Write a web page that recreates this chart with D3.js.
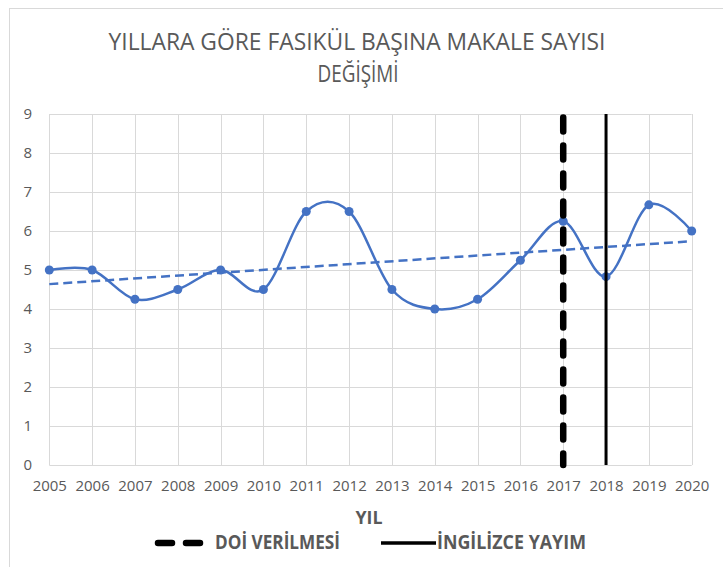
<!DOCTYPE html>
<html>
<head>
<meta charset="utf-8">
<script src="https://cdn.jsdelivr.net/npm/d3@7"></script>
<style>
  body { margin: 0; background: #fff; }
  text { font-family: "Open Sans", "Noto Sans", sans-serif; fill: #595959; }
</style>
</head>
<body>
<script>
// data
var years = [2005, 2006, 2007, 2008, 2009, 2010, 2011, 2012, 2013, 2014, 2015, 2016, 2017, 2018, 2019, 2020];
var perIssue = [5, 5, 4.25, 4.5, 5, 4.5, 6.5, 6.5, 4.5, 4, 4.25, 5.25, 6.25, 4.83, 6.67, 6];
var yTicks = [0, 1, 2, 3, 4, 5, 6, 7, 8, 9];
var doiYear = 2017;
var englishYear = 2018;
var titleLines = ["YILLARA GÖRE FASIKÜL BAŞINA MAKALE SAYISI", "DEĞİŞİMİ"];
var legendNames = ["DOİ VERİLMESİ", "İNGİLİZCE YAYIM"];

var w = 723;
var h = 567;
var blue = "#4472C4";

var svg = d3.select("body")
  .append("svg")
  .attr("width", w)
  .attr("height", h);

// chart border
svg.append("rect")
  .attr("x", 9.5)
  .attr("y", 8.5)
  .attr("width", w - 8)
  .attr("height", h - 4)
  .attr("fill", "none")
  .attr("stroke", "#d9d9d9");

var xScale = d3.scaleLinear()
  .domain([2005, 2020])
  .range([49.3, 691.7]);

var yScale = d3.scaleLinear()
  .domain([0, 9])
  .range([465, 114]);

// title
svg.append("text")
  .attr("x", 357)
  .attr("y", 50)
  .attr("text-anchor", "middle")
  .attr("font-size", 24)
  .attr("textLength", 497)
  .attr("lengthAdjust", "spacingAndGlyphs")
  .text(titleLines[0]);

svg.append("text")
  .attr("x", 358)
  .attr("y", 82)
  .attr("text-anchor", "middle")
  .attr("font-size", 24)
  .attr("textLength", 81)
  .attr("lengthAdjust", "spacingAndGlyphs")
  .text(titleLines[1]);

// gridlines
svg.append("g")
  .selectAll("line")
  .data(yTicks)
  .enter().append("line")
  .attr("x1", xScale(2005))
  .attr("x2", xScale(2020))
  .attr("y1", function(d) { return Math.round(yScale(d)) + 0.5; })
  .attr("y2", function(d) { return Math.round(yScale(d)) + 0.5; })
  .attr("stroke", "#d9d9d9");

svg.append("g")
  .selectAll("line")
  .data(years)
  .enter().append("line")
  .attr("x1", function(d) { return Math.round(xScale(d)) + 0.5; })
  .attr("x2", function(d) { return Math.round(xScale(d)) + 0.5; })
  .attr("y1", yScale(9))
  .attr("y2", yScale(0))
  .attr("stroke", "#d9d9d9");

// y axis labels
var yAxis = svg.append("g")
  .attr("transform", "translate(32,0)")
  .call(d3.axisLeft(yScale).tickValues(yTicks).tickSize(0).tickPadding(0));
yAxis.select(".domain").remove();
yAxis.selectAll("text")
  .attr("font-size", 15)
  .attr("font-family", "Open Sans")
  .style("fill", "#595959");

// x axis labels
var xAxis = svg.append("g")
  .attr("transform", "translate(0,480)")
  .call(d3.axisBottom(xScale).tickValues(years).tickFormat(d3.format("d")).tickSize(0).tickPadding(0));
xAxis.select(".domain").remove();
xAxis.selectAll("text")
  .attr("font-size", 15)
  .attr("font-family", "Open Sans")
  .attr("dy", "0.71em")
  .style("fill", "#595959");

svg.append("text")
  .attr("x", 369)
  .attr("y", 524)
  .attr("text-anchor", "middle")
  .attr("font-size", 17)
  .attr("font-weight", "bold")
  .attr("textLength", 27)
  .attr("lengthAdjust", "spacingAndGlyphs")
  .text("YIL");

// linear trendline from least squares
var n = years.length;
var mx = d3.mean(years);
var my = d3.mean(perIssue);
var sxy = 0, sxx = 0;
for (var i = 0; i < n; i++) {
  sxy += (years[i] - mx) * (perIssue[i] - my);
  sxx += (years[i] - mx) * (years[i] - mx);
}
var slope = sxy / sxx;
var trend = [years[0], years[n - 1]].map(function(x) { return [x, my + slope * (x - mx)]; });

svg.append("path")
  .datum(trend)
  .attr("d", d3.line()
    .x(function(d) { return xScale(d[0]); })
    .y(function(d) { return yScale(d[1]); }))
  .attr("fill", "none")
  .attr("stroke", blue)
  .attr("stroke-width", 2.5)
  .attr("stroke-dasharray", "9,5");

// smoothed series
var series = years.map(function(y, i) { return [y, perIssue[i]]; });
svg.append("path")
  .datum(series)
  .attr("d", d3.line()
    .x(function(d) { return xScale(d[0]); })
    .y(function(d) { return yScale(d[1]); })
    .curve(d3.curveCardinal.tension(0)))
  .attr("fill", "none")
  .attr("stroke", blue)
  .attr("stroke-width", 2.5);

svg.append("g")
  .selectAll("circle")
  .data(series)
  .enter().append("circle")
  .attr("cx", function(d) { return xScale(d[0]); })
  .attr("cy", function(d) { return yScale(d[1]); })
  .attr("r", 4.5)
  .attr("fill", blue);

// marker lines
svg.append("line")
  .attr("x1", xScale(doiYear))
  .attr("x2", xScale(doiYear))
  .attr("y1", yScale(9) + 3.5)
  .attr("y2", yScale(0))
  .attr("stroke", "#000")
  .attr("stroke-width", 6.5)
  .attr("stroke-linecap", "round")
  .attr("stroke-dasharray", "14,14");

svg.append("line")
  .attr("x1", xScale(englishYear))
  .attr("x2", xScale(englishYear))
  .attr("y1", yScale(9))
  .attr("y2", yScale(0))
  .attr("stroke", "#000")
  .attr("stroke-width", 3);

// legend
svg.append("line")
  .attr("x1", 158)
  .attr("x2", 200)
  .attr("y1", 543)
  .attr("y2", 543)
  .attr("stroke", "#000")
  .attr("stroke-width", 6.5)
  .attr("stroke-linecap", "round")
  .attr("stroke-dasharray", "14,14");

svg.append("text")
  .attr("x", 215)
  .attr("y", 549)
  .attr("font-size", 19)
  .attr("font-weight", "bold")
  .attr("textLength", 125)
  .attr("lengthAdjust", "spacingAndGlyphs")
  .text(legendNames[0]);

svg.append("line")
  .attr("x1", 381)
  .attr("x2", 436)
  .attr("y1", 543)
  .attr("y2", 543)
  .attr("stroke", "#000")
  .attr("stroke-width", 3.5);

svg.append("text")
  .attr("x", 437)
  .attr("y", 549)
  .attr("font-size", 19)
  .attr("font-weight", "bold")
  .attr("textLength", 149)
  .attr("lengthAdjust", "spacingAndGlyphs")
  .text(legendNames[1]);
</script>
</body>
</html>
